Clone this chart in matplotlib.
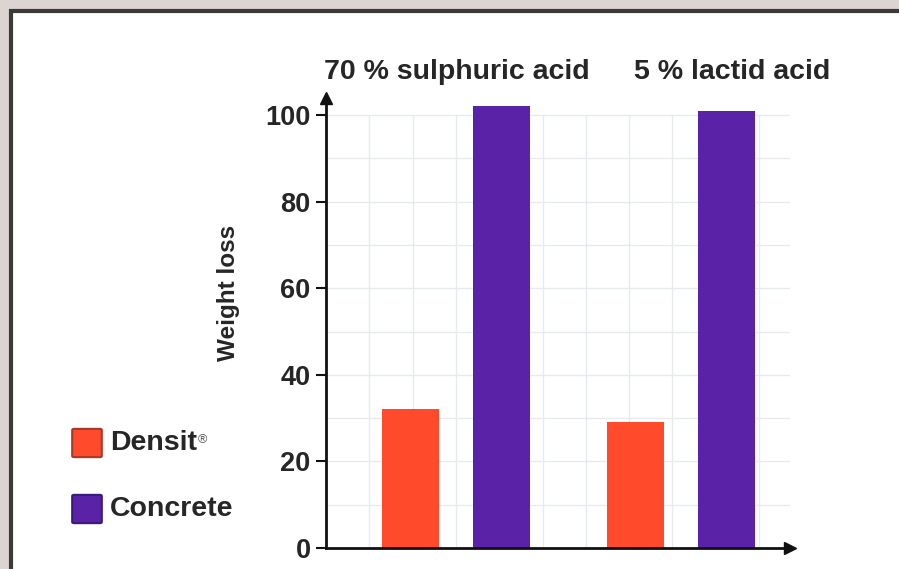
import matplotlib
matplotlib.use("Agg")
import matplotlib.pyplot as plt
import matplotlib.patches as mpatches
import numpy as np

# ---- data ----
groups = ["70 % sulphuric acid", "5 % lactid acid"]
series = ["Densit®", "Concrete"]
densit = [32, 29]
concrete = [102, 101]
yticks = [0, 20, 40, 60, 80, 100]
colors = ["#FF4A2C", "#5A22A6"]
edge_colors = ["#A8382C", "#3A1A78"]

plt.rcParams['font.family'] = ['Liberation Sans', 'DejaVu Sans']

W, H = 899, 569
TXT = "#262626"
fig = plt.figure(figsize=(W / 100, H / 100), dpi=100, facecolor="#DCD4D0")

# white panel with dark border
panel = mpatches.Rectangle((10.5 / W, -0.1), 1.2, 1 - 11.5 / H + 0.1,
                           transform=fig.transFigure, facecolor="white",
                           edgecolor="#3A3A3A", linewidth=3, zorder=0)
fig.add_artist(panel)

# axes geometry (pixels)
x0, x1 = 326, 790
y0, ytop = 548, 98
ax = fig.add_axes([x0 / W, 1 - y0 / H, (x1 - x0) / W, (y0 - ytop) / H])
ax.set_facecolor("none")

px_per_unit = (548 - 115) / 100.0
xmax = (x1 - x0) / px_per_unit
ymax = (y0 - ytop) / px_per_unit
ax.set_xlim(0, xmax)
ax.set_ylim(0, ymax)

group_centers = np.array([30.0, 82.0])
offset = 10.5
width = 13.2
ax.bar(group_centers - offset, densit, width=width, color=colors[0], zorder=3)
ax.bar(group_centers + offset, concrete, width=width, color=colors[1], zorder=3)

# grid
for gx in np.arange(10, xmax, 10):
    ax.plot([gx, gx], [0, 100], color="#E6EBEF", lw=1, zorder=1)
for gy in np.arange(10, 101, 10):
    ax.plot([0, xmax], [gy, gy], color="#E6EBEF", lw=1, zorder=1)

# spines & arrows
for s in ["top", "right"]:
    ax.spines[s].set_visible(False)
for s in ["left", "bottom"]:
    ax.spines[s].set_linewidth(2)
    ax.spines[s].set_color("#111111")
    ax.spines[s].set_zorder(4)
ax.plot(1, 0, ">", color="#111111", markersize=9, transform=ax.transAxes, clip_on=False, zorder=5)
ax.plot(0, 1, "^", color="#111111", markersize=9, transform=ax.transAxes, clip_on=False, zorder=5)

ax.set_xticks([])
ax.set_yticks(yticks)
ax.set_yticklabels([str(t) for t in yticks], fontsize=19.5, color=TXT,
                   fontweight="bold")
ax.tick_params(axis="y", length=7, width=1.5, pad=4, color="#111111")

# group titles
title_x = [30.3, 93.8]
for tx, g in zip(title_x, groups):
    ax.text(tx, (y0 - 72) / px_per_unit, g, ha="center", va="center",
            fontsize=20.5, color=TXT, fontweight="bold", clip_on=False)

# y label
fig.text(228 / W, 1 - 293 / H, "Weight loss", rotation=90, ha="center", va="center",
         fontsize=17.5, color=TXT, fontweight="bold")

# legend
renderer = fig.canvas.get_renderer()
leg_y = [443, 509]
for yy, name, fc, ec in zip(leg_y, series, colors, edge_colors):
    sq = mpatches.FancyBboxPatch((74 / W, 1 - (yy + 13) / H), 26 / W, 26 / H,
                                 boxstyle="round,pad=0.002",
                                 transform=fig.transFigure, facecolor=fc,
                                 edgecolor=ec, linewidth=1.5)
    fig.add_artist(sq)
    base = name.rstrip("®")
    t = fig.text(110 / W, 1 - yy / H, base, ha="left", va="center",
                 fontsize=20.5, color=TXT, fontweight="bold")
    if name.endswith("®"):
        bb = t.get_window_extent(renderer=renderer)
        fig.text((bb.x1 + 1) / W, (bb.y1 - 4) / H, "®", ha="left", va="top",
                 fontsize=9, color="#555555")

fig.savefig("out.png", dpi=100, facecolor=fig.get_facecolor())
